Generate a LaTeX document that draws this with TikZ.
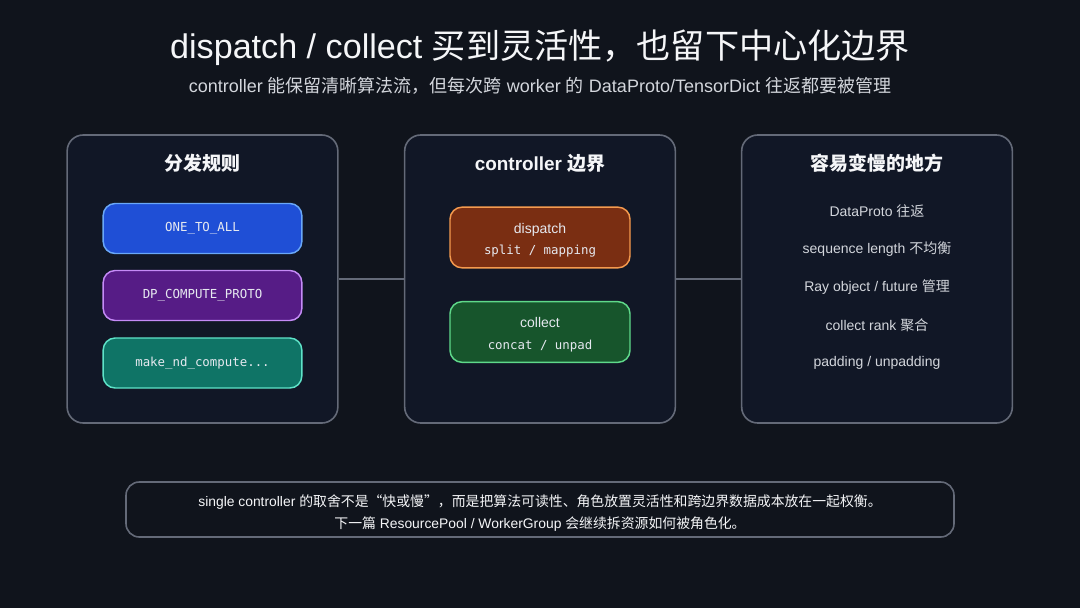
\documentclass[tikz,border=0pt]{standalone}
\usepackage{fontspec}
\setmainfont{Liberation Sans}
\setmonofont{DejaVu Sans Mono}
\newfontfamily\cjk{Noto Sans CJK SC}
\usepackage{tikz}
\definecolor{pagebg}{HTML}{10141C}
\definecolor{panelbg}{HTML}{111726}
\definecolor{panelline}{HTML}{646A78}
\definecolor{headfg}{HTML}{F5F6F8}
\definecolor{softfg}{HTML}{D3D6DC}
\definecolor{boxfg}{HTML}{E6E9F0}
\definecolor{bluefill}{HTML}{1F4FD6}
\definecolor{blueline}{HTML}{6AA8F8}
\definecolor{purplefill}{HTML}{561C86}
\definecolor{purpleline}{HTML}{C58BF7}
\definecolor{tealfill}{HTML}{0F7466}
\definecolor{tealline}{HTML}{5EE3C8}
\definecolor{orangefill}{HTML}{7A2E12}
\definecolor{orangeline}{HTML}{F59A4E}
\definecolor{greenfill}{HTML}{17552C}
\definecolor{greenline}{HTML}{5FD98A}
\tikzset{
  panel/.style={draw=panelline, fill=panelbg, line width=1.2pt, rounded corners=12pt,
    minimum width=203pt, minimum height=216pt},
  paneltitle/.style={text=headfg, font=\bfseries\fontsize{14.2}{18}\selectfont},
  rulebox/.style={rounded corners=9pt, line width=1.1pt, minimum width=149pt,
    minimum height=37.5pt, text=boxfg, font=\ttfamily\fontsize{9.3}{12}\selectfont},
  stagebox/.style={rounded corners=9pt, line width=1.1pt, minimum width=135pt,
    minimum height=45.5pt},
  stagetext/.style={text=boxfg, align=center, font=\fontsize{10.5}{16}\selectfont},
  slowitem/.style={text=softfg, font=\fontsize{10.5}{13}\selectfont},
}

\begin{document}
\begin{tikzpicture}[x=0.75pt, y=-0.75pt]
  \path[use as bounding box, fill=pagebg] (0,0) rectangle (1080,608);

  \node[text=headfg, font=\fontsize{25.6}{30}\selectfont] (title) at (540,48)
    {dispatch / collect {\cjk 买到灵活性，也留下中心化边界}};
  \node[text=softfg, font=\fontsize{13.5}{16}\selectfont] (subtitle) at (540,86)
    {controller {\cjk 能保留清晰算法流，但每次跨} worker {\cjk 的} DataProto/TensorDict {\cjk 往返都要被管理}};

  % three panels
  \node[panel] (rules) at (202.5,279) {};
  \node[panel] (ctrl) at (540,279) {};
  \node[panel] (slow) at (877,279) {};
  \draw[panelline, line width=1.2pt] (rules.east) -- (ctrl.west);
  \draw[panelline, line width=1.2pt] (ctrl.east) -- (slow.west);

  \node[paneltitle] (rulestitle) at (202.5,163) {\cjk 分发规则};
  \node[paneltitle] (ctrltitle) at (540,163) {controller {\cjk 边界}};
  \node[paneltitle] (slowtitle) at (877,163) {\cjk 容易变慢的地方};

  % dispatch modes
  \node[rulebox, draw=blueline, fill=bluefill] (onetoall) at (202.5,228.5) {ONE\_TO\_ALL};
  \node[rulebox, draw=purpleline, fill=purplefill] (dpproto) at (202.5,295.5) {DP\_COMPUTE\_PROTO};
  \node[rulebox, draw=tealline, fill=tealfill] (makend) at (202.5,363) {make\_nd\_compute...};

  % controller side
  \node[stagebox, draw=orangeline, fill=orangefill] (dispatch) at (540,237.5) {};
  \node[stagetext] (dispatchtext) at ([yshift=-2.2pt]dispatch.center)
    {dispatch\\{\ttfamily\fontsize{9.3}{12}\selectfont split / mapping}};
  \node[stagebox, draw=greenline, fill=greenfill] (collect) at (540,332) {};
  \node[stagetext] (collecttext) at ([yshift=-2pt]collect.center)
    {collect\\{\ttfamily\fontsize{9.3}{12}\selectfont concat / unpad}};

  % slow spots
  \foreach \txt [count=\i] in {{DataProto {\cjk 往返}}, {sequence length {\cjk 不均衡}},
      {Ray object / future {\cjk 管理}}, {collect rank {\cjk 聚合}}, {padding / unpadding}}
    \node[slowitem] (slow\i) at (877,173+38*\i) {\txt};

  \node[draw=panelline, line width=1.2pt, rounded corners=10pt, minimum width=621pt,
    minimum height=41.25pt] (note) at (540,509.5) {};
  \node[text=headfg, align=center, font=\fontsize{10.4}{16.5}\selectfont]
    (notetext) at ([yshift=-2.5pt]note.center)
    {single controller {\cjk 的取舍不是“快或慢”，而是把算法可读性、角色放置灵活性和跨边界数据成本放在一起权衡。}\\
     {\cjk 下一篇} ResourcePool / WorkerGroup {\cjk 会继续拆资源如何被角色化。}};
\end{tikzpicture}
\end{document}
